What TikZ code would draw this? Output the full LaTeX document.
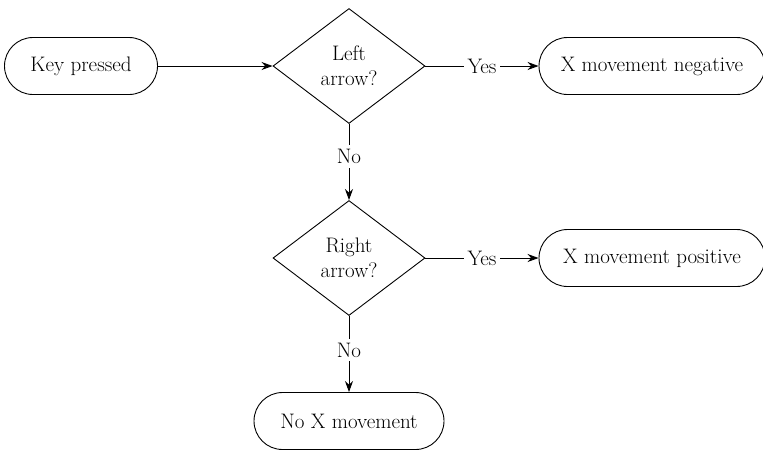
\documentclass[tikz,border=0pt]{standalone}
\usepackage{tikz}
\usetikzlibrary{positioning,shapes.geometric,arrows.meta}

\begin{document}
\begin{tikzpicture}[-{Stealth[length=11pt,width=8pt]} ,on grid ,line width=0.9pt ,font=\fontsize{21}{25}\selectfont ,
  term/.style ={ rectangle ,rounded corners=28.5pt ,draw ,minimum height=57pt ,inner sep=0pt },
  decision/.style ={ diamond ,draw ,aspect=1.32 ,minimum width=152pt ,minimum height=115pt ,inner sep=0pt ,align=center },
  answer/.style ={ fill=white ,inner sep=4pt ,anchor=center }]
\useasboundingbox (0,0) rectangle (763pt,-451pt);
\node[term ,minimum width=153pt] (key) at (81pt,-66pt) { Key pressed };
\node[decision] (left) [right = 268pt of key] { Left\\arrow? };
\node[term ,minimum width=226pt] (neg) [right = 303pt of left] { X movement negative };
\node[decision] (right) [below = 192pt of left] { Right\\arrow? };
\node[term ,minimum width=226pt] (pos) [right = 303pt of right] { X movement positive };
\node[term ,minimum width=190pt] (none) [below = 163pt of right] { No X movement };
\path (key) edge (left);
\path (left) edge node[answer ,pos=0.5] {Yes} (neg);
\path (left) edge node[answer ,pos=0.43] {No} (right);
\path (right) edge node[answer ,pos=0.5] {Yes} (pos);
\path (right) edge node[answer ,pos=0.45] {No} (none);
\end{tikzpicture}
\end{document}
